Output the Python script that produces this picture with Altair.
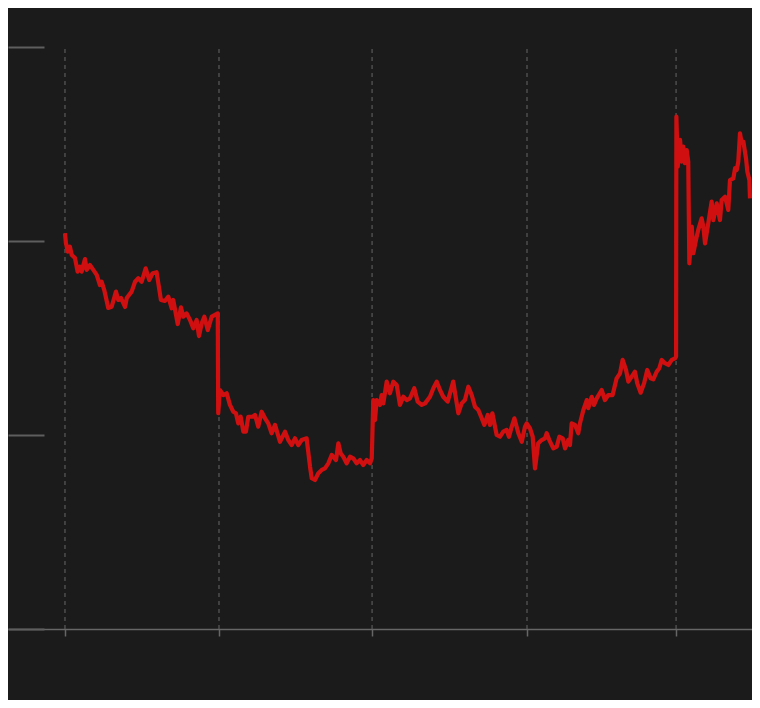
import altair as alt
import pandas as pd

# time in years since series start, value in price units
t = [0.000, 0.006, 0.018, 0.032, 0.044, 0.065, 0.082, 0.097, 0.108, 0.130,
     0.141, 0.162, 0.184, 0.206, 0.227, 0.238, 0.255, 0.281, 0.303, 0.331,
     0.346, 0.364, 0.390, 0.401, 0.433, 0.455, 0.476, 0.498, 0.524, 0.547,
     0.569, 0.595, 0.623, 0.649, 0.671, 0.693, 0.703, 0.732, 0.753, 0.768,
     0.790, 0.812, 0.833, 0.855, 0.870, 0.888, 0.905, 0.927, 0.953, 0.992,
     0.995, 1.006, 1.028, 1.050, 1.071, 1.093, 1.110, 1.125, 1.141, 1.158,
     1.175, 1.190, 1.219, 1.234, 1.255, 1.277, 1.299, 1.320, 1.342, 1.364,
     1.396, 1.429, 1.450, 1.472, 1.494, 1.515, 1.537, 1.569, 1.591, 1.602,
     1.623, 1.645, 1.667, 1.688, 1.710, 1.732, 1.760, 1.775, 1.790, 1.807,
     1.829, 1.851, 1.872, 1.894, 1.916, 1.937, 1.959, 1.981, 1.992, 2.002,
     2.013, 2.024, 2.045, 2.056, 2.067, 2.089, 2.110, 2.132, 2.154, 2.175,
     2.197, 2.219, 2.240, 2.268, 2.290, 2.316, 2.338, 2.370, 2.392, 2.414,
     2.435, 2.456, 2.485, 2.521, 2.554, 2.576, 2.597, 2.619, 2.641, 2.662,
     2.684, 2.706, 2.723, 2.745, 2.760, 2.775, 2.803, 2.825, 2.846, 2.868,
     2.883, 2.901, 2.918, 2.944, 2.966, 2.987, 2.998, 3.019, 3.037, 3.052,
     3.073, 3.095, 3.117, 3.128, 3.145, 3.171, 3.193, 3.210, 3.232, 3.247,
     3.268, 3.279, 3.290, 3.312, 3.333, 3.344, 3.366, 3.388, 3.398, 3.420,
     3.435, 3.453, 3.485, 3.506, 3.528, 3.556, 3.582, 3.604, 3.621, 3.643,
     3.658, 3.680, 3.701, 3.716, 3.738, 3.760, 3.781, 3.803, 3.820, 3.842,
     3.859, 3.875, 3.896, 3.918, 3.940, 3.961, 3.968, 3.970, 3.979, 3.994,
     4.005, 4.015, 4.026, 4.037, 4.047, 4.054, 4.070, 4.080, 4.097, 4.112,
     4.134, 4.145, 4.156, 4.177, 4.199, 4.210, 4.232, 4.253, 4.264, 4.286,
     4.307, 4.318, 4.340, 4.351, 4.362, 4.372, 4.383, 4.394, 4.405, 4.422,
     4.431, 4.444, 4.448]

v = [20.40, 19.90, 19.45, 19.71, 19.28, 19.12, 18.42, 18.68, 18.42, 19.07,
     18.51, 18.76, 18.51, 18.25, 17.73, 17.90, 17.47, 16.55, 16.61, 17.39,
     16.96, 17.06, 16.60, 17.06, 17.39, 17.90, 18.08, 17.90, 18.59, 17.99,
     18.34, 18.39, 16.96, 16.91, 17.13, 16.53, 16.96, 15.72, 16.58, 16.10,
     16.27, 15.93, 15.50, 15.93, 15.10, 15.76, 16.10, 15.41, 16.10, 16.27,
     11.12, 12.32, 12.06, 12.15, 11.55, 11.20, 11.12, 10.60, 10.94, 10.17,
     10.17, 10.94, 10.94, 11.03, 10.43, 11.20, 10.86, 10.60, 10.09, 10.52,
     9.65, 10.17, 9.74, 9.48, 9.83, 9.48, 9.74, 9.83, 8.37, 7.77,
     7.68, 8.03, 8.20, 8.28, 8.54, 8.97, 8.71, 9.57, 9.06, 8.88,
     8.54, 8.88, 8.80, 8.54, 8.71, 8.45, 8.71, 8.54, 8.80, 11.80,
     10.77, 11.80, 11.55, 12.06, 11.63, 12.75, 12.15, 12.75, 12.58, 11.55,
     11.97, 11.80, 11.89, 12.41, 11.72, 11.55, 11.63, 11.97, 12.41, 12.75,
     12.32, 11.97, 11.72, 12.75, 11.12, 11.63, 11.80, 12.49, 12.06, 11.46,
     11.29, 10.86, 10.52, 11.03, 10.52, 11.12, 10.00, 9.91, 10.17, 10.26,
     9.91, 10.43, 10.86, 10.09, 9.65, 10.43, 10.60, 10.35, 9.91, 8.28,
     9.57, 9.74, 9.83, 10.09, 9.74, 9.31, 9.40, 9.91, 9.83, 9.31,
     9.74, 9.48, 10.60, 10.52, 10.09, 10.60, 11.29, 11.80, 11.38, 11.97,
     11.55, 11.89, 12.32, 11.80, 12.06, 12.06, 12.92, 13.18, 13.87, 13.35,
     12.75, 13.01, 13.26, 12.66, 12.18, 12.66, 13.35, 12.92, 12.87, 13.26,
     13.44, 13.87, 13.70, 13.61, 13.87, 13.95, 14.04, 26.41, 23.83, 25.21,
     24.09, 24.86, 24.01, 24.69, 24.09, 18.85, 20.74, 19.37, 20.05, 20.57,
     21.17, 20.74, 19.88, 20.91, 22.03, 21.08, 21.94, 21.08, 22.11, 22.28,
     21.60, 23.14, 23.23, 23.75, 23.66, 24.09, 25.55, 25.04, 25.12, 24.26,
     23.57, 23.14, 22.20]

grid_t = [0.0, 1.0, 1.994, 3.0, 3.968]
y_ticks = [0, 10, 20, 30]
grid_low = [0] * len(grid_t)
grid_high = [30] * len(grid_t)

df = pd.DataFrame({"t": t, "v": v})
grid_df = pd.DataFrame({"t": grid_t, "lo": grid_low, "hi": grid_high})

xs = alt.Scale(domain=[-0.370, 4.461], nice=False, zero=False)
ys = alt.Scale(domain=[-3.660, 32.010], nice=False, zero=False)

x_axis = alt.Axis(values=grid_t, labels=False, grid=False, ticks=True, tickSize=7,
                  tickColor="#666666", tickWidth=1.5, domain=True,
                  domainColor="#666666", domainWidth=1.5, offset=-71, title=None)
y_axis = alt.Axis(values=y_ticks, labels=False, grid=False, ticks=True, tickSize=36,
                  tickColor="#5e5e5e", tickWidth=2, domain=False, offset=-36,
                  title=None)

grid = alt.Chart(grid_df).mark_rule(
    color="#5a5a5a", strokeWidth=1.2, strokeDash=[4, 4]
).encode(
    x=alt.X("t:Q", scale=xs, axis=x_axis),
    y=alt.Y("lo:Q", scale=ys, axis=y_axis),
    y2="hi:Q",
)

line = alt.Chart(df).mark_line(
    color="#d01010", strokeWidth=4.2, strokeJoin="round"
).encode(
    x=alt.X("t:Q", scale=xs, axis=x_axis),
    y=alt.Y("v:Q", scale=ys, axis=y_axis),
)

chart = alt.layer(grid, line).properties(
    width=744, height=692,
    autosize=alt.AutoSizeParams(type="none"),
    padding=0,
    background="#1b1b1b",
).configure_view(strokeWidth=0)

chart.save("out.html", embed_options={"renderer": "svg", "actions": False})
